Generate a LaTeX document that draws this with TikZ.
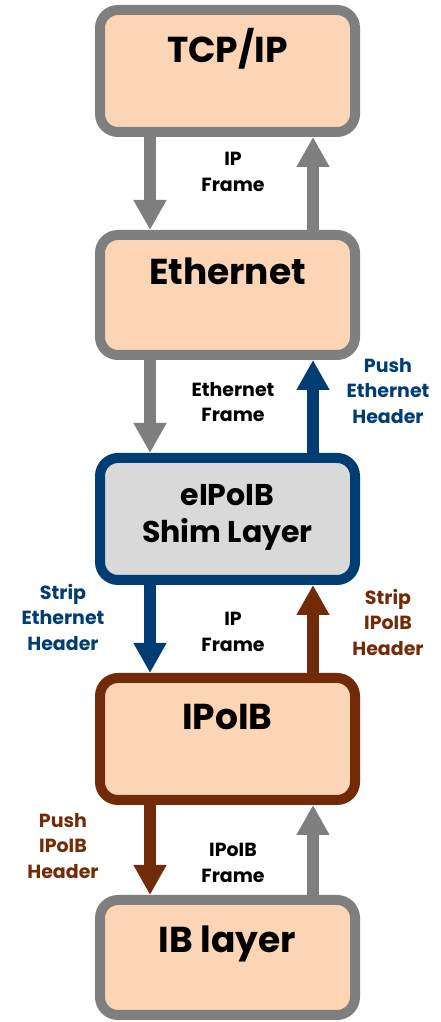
\documentclass[tikz,border=0pt]{standalone}
\usepackage{fontspec}
\setmainfont{Poppins}
\usetikzlibrary{arrows.meta}
\definecolor{peach}{HTML}{FBD5B5}
\definecolor{shimgray}{HTML}{D9D9D9}
\definecolor{framegray}{HTML}{7F7F7F}
\definecolor{navy}{HTML}{003D73}
\definecolor{rust}{HTML}{722B08}
\tikzset{
  layer/.style={draw=framegray, fill=peach, line width=10pt, rounded corners=18pt,
    minimum width=255pt, minimum height=122pt, inner sep=0pt},
  title/.style={font=\fontsize{36}{40}\selectfont\bfseries, anchor=base, inner sep=0pt},
  note/.style={font=\fontsize{19}{25.5}\selectfont\bfseries, align=center, inner sep=0pt},
  flow/.style={line width=12pt, -{Triangle[width=31pt,length=30pt]}},
}
\begin{document}
\begin{tikzpicture}[x=1pt,y=1pt]
\useasboundingbox (0,0) rectangle (441,1022);

% layer boxes
\node[layer] (tcp) at (227.5,951) {};
\node[layer, minimum height=120pt] (eth) at (227.5,727) {};
\node[layer, draw=navy, fill=shimgray] (shim) at (227.5,503) {};
\node[layer, draw=rust] (ipoib) at (227.5,283) {};
\node[layer, minimum height=115pt] (ib) at (227.5,64.5) {};

% layer names
\node[title] (tcpT) at (227.5,959) {TCP/IP};
\node[title] (ethT) at (227.5,737) {Ethernet};
\node[title, font=\fontsize{30}{34}\selectfont\bfseries] (shimA) at (227.5,516) {eIPoIB};
\node[title, font=\fontsize{30}{34}\selectfont\bfseries] (shimB) at (227.5,479) {Shim Layer};
\node[title] (ipoibT) at (227.5,292) {IPoIB};
\node[title] (ibT) at (227.5,69) {IB layer};

% connectors between layers
\draw[flow, framegray] (tcp.south -| 150,0) -- (eth.north -| 150,0);
\draw[flow, framegray] (eth.north -| 313,0) -- (tcp.south -| 313,0);
\draw[flow, framegray] (eth.south -| 150,0) -- (shim.north -| 150,0);
\draw[flow, navy] (shim.north -| 313,0) -- (eth.south -| 313,0);
\draw[flow, navy] (shim.south -| 150,0) -- (ipoib.north -| 150,0);
\draw[flow, rust] (ipoib.north -| 313,0) -- (shim.south -| 313,0);
\draw[flow, rust] (ipoib.south -| 150,0) -- (ib.north -| 150,0);
\draw[flow, framegray] (ib.north -| 313,0) -- (ipoib.south -| 313,0);

% connector notes
\node[note] (f1) at (233,850) {IP\\Frame};
\node[note] (f2) at (233,620) {Ethernet\\Frame};
\node[note, text=navy] (n1) at (388,631) {Push\\Ethernet\\Header};
\node[note, text=navy] (n2) at (63,405) {Strip\\Ethernet\\Header};
\node[note] (f3) at (233,390) {IP\\Frame};
\node[note, text=rust] (n3) at (388,400) {Strip\\IPoIB\\Header};
\node[note, text=rust] (n4) at (63,176) {Push\\IPoIB\\Header};
\node[note] (f4) at (233,159) {IPoIB\\Frame};
\end{tikzpicture}
\end{document}
